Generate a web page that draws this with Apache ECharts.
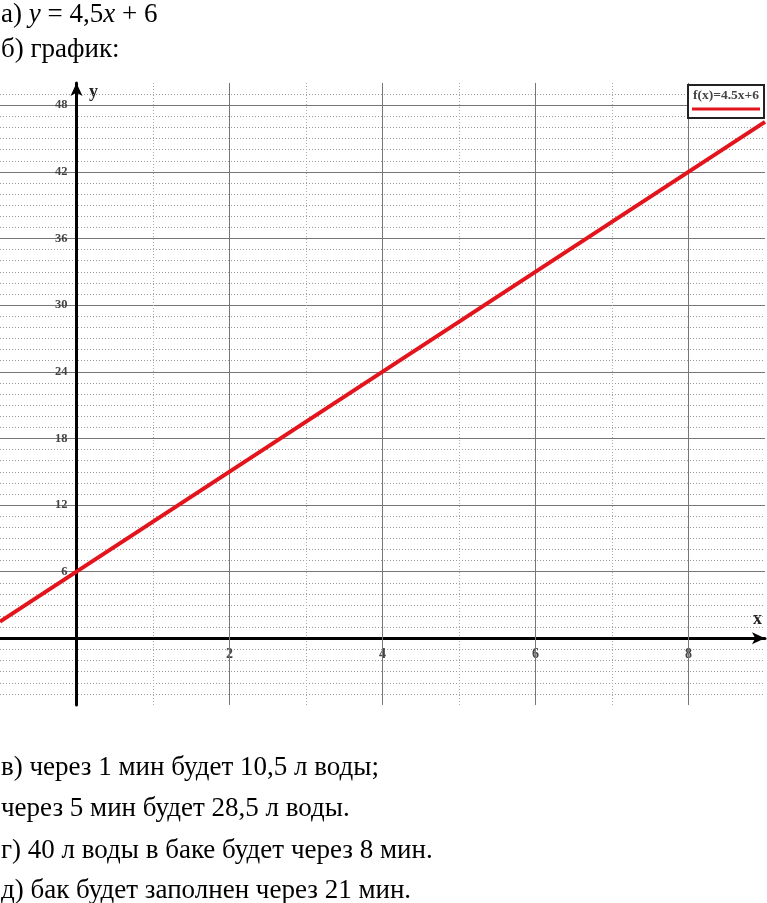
<!DOCTYPE html>
<html><head><meta charset="utf-8">
<script src="https://cdn.jsdelivr.net/npm/echarts@6/dist/echarts.min.js"></script>
<style>html,body{margin:0;padding:0;background:#fff}#c{width:767px;height:903px}</style>
</head><body><div id="c"></div>
<script>
// data
const lineX = [-1, 9];
const lineY = [1.5, 46.5];
const xTickLabels = [2, 4, 6, 8];
const yTickLabels = [6, 12, 18, 24, 30, 36, 42, 48];
const xMajorLines = [2, 4, 6, 8];
const legendLabel = 'f(x)=4.5x+6';
const headerLines = ['б) график:'];
const answerLines = [
  'в) через 1 мин будет 10,5 л воды;',
  'через 5 мин будет 28,5 л воды.',
  'г) 40 л воды в баке будет через 8 мин.',
  'д) бак будет заполнен через 21 мин.'
];

const serif = '"Liberation Serif", "DejaVu Serif", serif';
const chart = echarts.init(document.getElementById('c'));
const red = '#e3141c';

const gridTop = 83, gridBottom = 198, gridLeft = 0, gridRight = 2;
const yMin = -6, yMax = 50, xMin = -1, xMax = 9;
const plotH = 903 - gridTop - gridBottom, plotW = 767 - gridLeft - gridRight;
const xOffset = -plotH * (0 - yMin) / (yMax - yMin);
const yOffset = -plotW * (0 - xMin) / (xMax - xMin);

const answerY = [754, 795, 837, 877];

chart.setOption({
  animation: false,
  backgroundColor: '#fff',
  grid: { left: gridLeft, right: gridRight, top: gridTop, bottom: gridBottom, containLabel: false, outerBoundsMode: 'none' },
  xAxis: [{
    type: 'value', min: xMin, max: xMax, interval: 1, position: 'bottom', offset: xOffset,
    axisLine: { show: true, onZero: false, symbol: ['none', 'arrow'], symbolSize: [9, 13],
      lineStyle: { color: '#000', width: 3 } },
    axisTick: { show: false },
    axisLabel: { show: true, margin: 9, color: '#444', fontFamily: serif, fontWeight: 'bold', fontSize: 14,
      formatter: v => xTickLabels.includes(v) ? String(v) : '' },
    splitLine: { show: true, showMinLine: false, showMaxLine: false, lineStyle: { color: '#aaa', type: [1, 2], width: 1 } },
    z: 4
  }],
  yAxis: [{
    type: 'value', min: yMin, max: yMax, interval: 6, position: 'left', offset: yOffset,
    axisLine: { show: true, onZero: false, symbol: ['none', 'arrow'], symbolSize: [9, 13],
      lineStyle: { color: '#000', width: 3 } },
    axisTick: { show: false },
    axisLabel: { show: true, margin: 9, color: '#444', fontFamily: serif, fontWeight: 'bold', fontSize: 12.5,
      formatter: v => yTickLabels.includes(v) ? String(v) : '' },
    splitLine: { show: true, showMinLine: false, showMaxLine: false, lineStyle: { color: '#777', type: 'solid', width: 1 } },
    z: 4
  }, {
    type: 'value', min: yMin, max: yMax, interval: 1,
    axisLine: { show: false }, axisTick: { show: false }, axisLabel: { show: false },
    splitLine: { show: true, showMinLine: false, showMaxLine: false, lineStyle: { color: '#999', type: [1, 2], width: 1 } }
  }],
  series: [{
    type: 'line', data: [], z: 1, silent: true,
    markLine: {
      silent: true, symbol: ['none', 'none'], label: { show: false },
      lineStyle: { color: '#777', type: 'solid', width: 1 },
      data: xMajorLines.map(v => ({ xAxis: v }))
    }
  }, {
    type: 'line', name: legendLabel, z: 5,
    data: lineX.map((x, i) => [x, lineY[i]]),
    showSymbol: false, symbol: 'none',
    lineStyle: { color: red, width: 4 }
  }],
  graphic: [
    { type: 'text', left: 1, top: 1, style: {
      text: '{n|а) }{i|y}{s| =}{n| 4,5}{i|x}{s| +}{n| 6}',
      rich: {
        n: { fontFamily: serif, fontSize: 27, fill: '#000' },
        s: { fontFamily: serif, fontSize: 27, fill: '#000' },
        i: { fontFamily: serif, fontSize: 27, fontStyle: 'italic', fill: '#000' }
      } } },
    { type: 'text', left: 1, top: 36, style: { text: headerLines[0], font: '27px ' + serif, fill: '#000' } },
    ...answerLines.map((t, i) => ({ type: 'text', left: 1, top: answerY[i],
      style: { text: t, font: '27px ' + serif, fill: '#000' } })),
    { type: 'text', left: 89, top: 83, style: { text: 'y', font: 'bold 18px ' + serif, fill: '#222' } },
    { type: 'text', left: 753, top: 610, style: { text: 'x', font: 'bold 18px ' + serif, fill: '#222' } },
    { type: 'rect', shape: { x: 688, y: 85, width: 76, height: 33 },
      style: { fill: '#fff', stroke: '#222', lineWidth: 2 }, z: 10 },
    { type: 'text', x: 693, y: 89, z: 11, style: { text: legendLabel, font: 'bold 13.5px ' + serif, fill: '#444' } },
    { type: 'line', shape: { x1: 692, y1: 109, x2: 760, y2: 109 }, z: 11,
      style: { stroke: red, lineWidth: 3 } }
  ]
});
</script></body></html>
